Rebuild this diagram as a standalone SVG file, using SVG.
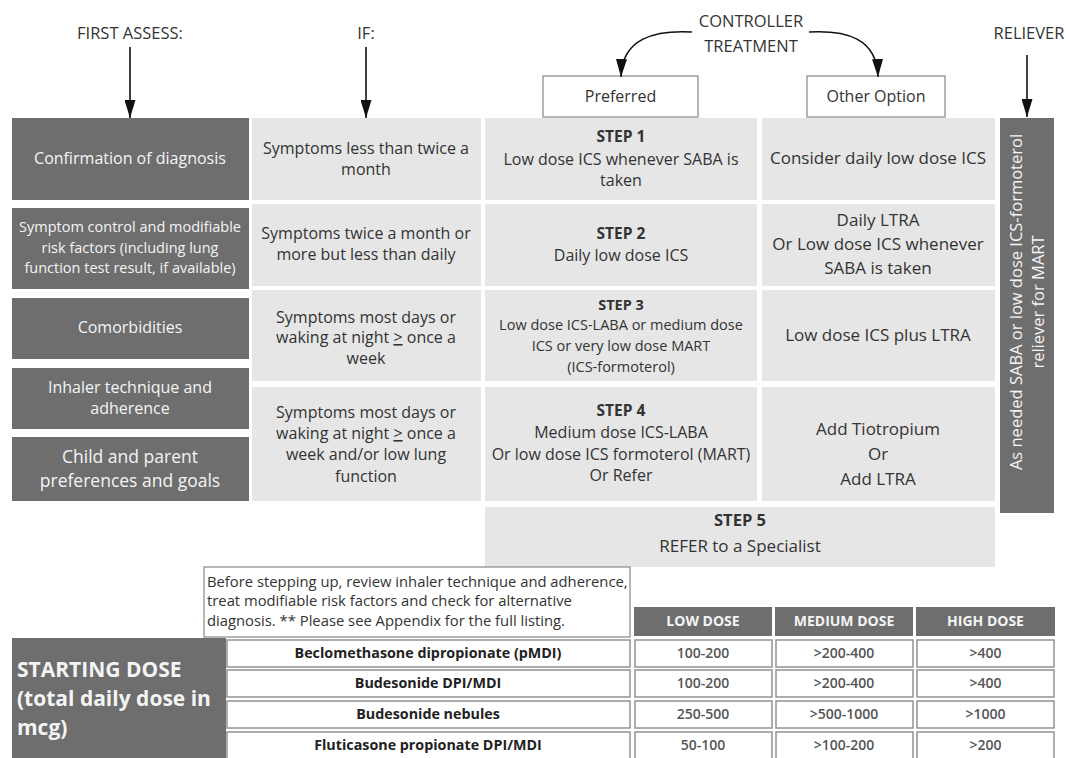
<svg xmlns="http://www.w3.org/2000/svg" width="1066" height="758" viewBox="0 0 1066 758">
  <defs>
    <marker id="head" viewBox="0 0 18 11" refX="18" refY="5.5" markerWidth="18" markerHeight="11" markerUnits="userSpaceOnUse" orient="auto">
      <path d="M0 0 L18 5.5 L0 11 Z" fill="#111"/>
    </marker>
    <style>
      text { font-family: "Open Sans", "Liberation Sans", sans-serif; }
      .hdr { font-size: 16.5px; fill: #333; text-anchor: middle; }
      .dark { fill: #6e6e6e; }
      .light { fill: #e6e6e6; }
      .dt { fill: #f4f4f4; font-size: 16px; text-anchor: middle; }
      .lt { fill: #333; font-size: 16px; text-anchor: middle; }
      .sm { font-size: 14.5px; }
      .st { font-size: 15.5px; font-weight: bold; }
      .oo { font-size: 17px; }
      .obox { fill: #fff; stroke: #888; stroke-width: 1.2; }
      .cell { fill: #fff; stroke: #999; stroke-width: 1.6; }
      .th { fill: #f4f4f4; font-size: 14px; font-weight: bold; text-anchor: middle; }
      .drug { fill: #222; font-size: 14.3px; font-weight: bold; text-anchor: middle; }
      .val { fill: #555; font-size: 14px; font-weight: 600; text-anchor: middle; }
      .note { fill: #333; font-size: 14.8px; }
      .sd { fill: #f4f4f4; font-size: 21px; font-weight: bold; }
      .arrow { fill: none; stroke: #111; stroke-width: 1.6; marker-end: url(#head); }
    </style>
  </defs>

  <rect width="1066" height="758" fill="#fff"/>

  <!-- column headings -->
  <g id="headings">
    <text class="hdr" x="130" y="39">FIRST ASSESS:</text>
    <text class="hdr" x="366" y="39">IF:</text>
    <text class="hdr" x="751" y="27">CONTROLLER</text>
    <text class="hdr" x="751" y="52">TREATMENT</text>
    <text class="hdr" x="1029" y="39">RELIEVER</text>
  </g>

  <g id="preferred">
    <rect class="obox" x="543" y="76" width="155" height="41"/>
    <text class="lt" x="620.5" y="102">Preferred</text>
  </g>
  <g id="other-option">
    <rect class="obox" x="807" y="76" width="138" height="41"/>
    <text class="lt" x="876" y="102">Other Option</text>
  </g>

  <!-- connectors -->
  <g id="connectors">
    <path class="arrow" d="M130 47 L130 118"/>
    <path class="arrow" d="M366 47 L366 118"/>
    <path class="arrow" d="M1027 55 L1027 117"/>
    <path class="arrow" d="M692 32 C655 30 622 38 621 77"/>
    <path class="arrow" d="M809 32 C846 30 877 38 878 77"/>
  </g>

  <!-- assessment column -->
  <g id="assess-diagnosis">
    <rect class="dark" x="12" y="118" width="237" height="82"/>
    <text class="dt" x="130" y="164">Confirmation of diagnosis</text>
  </g>
  <g id="assess-control">
    <rect class="dark" x="12" y="208" width="237" height="81"/>
    <text class="dt sm" x="130" y="232">Symptom control and modifiable</text>
    <text class="dt sm" x="130" y="253">risk factors (including lung</text>
    <text class="dt sm" x="130" y="273">function test result, if available)</text>
  </g>
  <g id="assess-comorbid">
    <rect class="dark" x="12" y="298" width="237" height="61"/>
    <text class="dt" x="130" y="333">Comorbidities</text>
  </g>
  <g id="assess-inhaler">
    <rect class="dark" x="12" y="368" width="237" height="61"/>
    <text class="dt" x="130" y="393">Inhaler technique and</text>
    <text class="dt" x="130" y="414">adherence</text>
  </g>
  <g id="assess-preferences">
    <rect class="dark" x="12" y="437" width="237" height="64"/>
    <text class="dt" x="130" y="463" style="font-size:17.5px">Child and parent</text>
    <text class="dt" x="130" y="487" style="font-size:17.5px">preferences and goals</text>
  </g>

  <!-- symptom column -->
  <g id="if-1">
    <rect class="light" x="252" y="118" width="229" height="82"/>
    <text class="lt" x="366" y="154">Symptoms less than twice a</text>
    <text class="lt" x="366" y="175">month</text>
  </g>
  <g id="if-2">
    <rect class="light" x="252" y="204" width="229" height="82"/>
    <text class="lt" x="366" y="239">Symptoms twice a month or</text>
    <text class="lt" x="366" y="260">more but less than daily</text>
  </g>
  <g id="if-3">
    <rect class="light" x="252" y="290" width="229" height="91"/>
    <text class="lt" x="366" y="323">Symptoms most days or</text>
    <text class="lt" x="366" y="343">waking at night <tspan text-decoration="underline">&gt;</tspan> once a</text>
    <text class="lt" x="366" y="364">week</text>
  </g>
  <g id="if-4">
    <rect class="light" x="252" y="387" width="229" height="114"/>
    <text class="lt" x="366" y="418">Symptoms most days or</text>
    <text class="lt" x="366" y="439">waking at night <tspan text-decoration="underline">&gt;</tspan> once a</text>
    <text class="lt" x="366" y="460">week and/or low lung</text>
    <text class="lt" x="366" y="482">function</text>
  </g>

  <!-- preferred controller steps -->
  <g id="step-1">
    <rect class="light" x="485" y="118" width="272" height="82"/>
    <text class="lt st" x="621" y="142">STEP 1</text>
    <text class="lt" x="621" y="165">Low dose ICS whenever SABA is</text>
    <text class="lt" x="621" y="186">taken</text>
  </g>
  <g id="step-2">
    <rect class="light" x="485" y="204" width="272" height="82"/>
    <text class="lt st" x="621" y="239">STEP 2</text>
    <text class="lt" x="621" y="261">Daily low dose ICS</text>
  </g>
  <g id="step-3">
    <rect class="light" x="485" y="290" width="272" height="91"/>
    <text class="lt st" x="621" y="310" style="font-size:14.5px">STEP 3</text>
    <text class="lt sm" x="621" y="330">Low dose ICS-LABA or medium dose</text>
    <text class="lt sm" x="621" y="351">ICS or very low dose MART</text>
    <text class="lt sm" x="621" y="372">(ICS-formoterol)</text>
  </g>
  <g id="step-4">
    <rect class="light" x="485" y="387" width="272" height="114"/>
    <text class="lt st" x="621" y="416">STEP 4</text>
    <text class="lt" x="621" y="438">Medium dose ICS-LABA</text>
    <text class="lt" x="621" y="460">Or low dose ICS formoterol (MART)</text>
    <text class="lt" x="621" y="481">Or Refer</text>
  </g>
  <g id="step-5">
    <rect class="light" x="485" y="507" width="510" height="60"/>
    <text class="lt st" x="740" y="526" style="font-size:16.5px">STEP 5</text>
    <text class="lt oo" x="740" y="552">REFER to a Specialist</text>
  </g>

  <!-- other controller options -->
  <g id="other-1">
    <rect class="light" x="762" y="118" width="233" height="82"/>
    <text class="lt oo" x="878" y="164">Consider daily low dose ICS</text>
  </g>
  <g id="other-2">
    <rect class="light" x="762" y="204" width="233" height="82"/>
    <text class="lt oo" x="878" y="226">Daily LTRA</text>
    <text class="lt oo" x="878" y="250">Or Low dose ICS whenever</text>
    <text class="lt oo" x="878" y="274">SABA is taken</text>
  </g>
  <g id="other-3">
    <rect class="light" x="762" y="290" width="233" height="91"/>
    <text class="lt oo" x="878" y="341">Low dose ICS plus LTRA</text>
  </g>
  <g id="other-4">
    <rect class="light" x="762" y="387" width="233" height="114"/>
    <text class="lt oo" x="878" y="435">Add Tiotropium</text>
    <text class="lt oo" x="878" y="460">Or</text>
    <text class="lt oo" x="878" y="485">Add LTRA</text>
  </g>

  <!-- reliever column -->
  <g id="reliever">
    <rect class="dark" x="1000" y="118" width="54" height="395"/>
    <text class="dt" transform="translate(1022 302) rotate(-90)" style="font-size:16.5px">As needed SABA or low dose ICS-formoterol</text>
    <text class="dt" transform="translate(1044 302) rotate(-90)" style="font-size:16.5px">reliever for MART</text>
  </g>

  <!-- review note -->
  <g id="note">
    <rect class="obox" x="204" y="567" width="426" height="70"/>
    <text class="note" x="207" y="587">Before stepping up, review inhaler technique and adherence,</text>
    <text class="note" x="207" y="606">treat modifiable risk factors and check for alternative</text>
    <text class="note" x="207" y="626">diagnosis. ** Please see Appendix for the full listing.</text>
  </g>

  <!-- starting dose table -->
  <g id="starting-dose">
    <rect class="dark" x="12" y="638" width="214" height="120"/>
    <text class="sd" x="17" y="677">STARTING DOSE</text>
    <text class="sd" x="17" y="706">(total daily dose in</text>
    <text class="sd" x="17" y="735">mcg)</text>
  </g>
  <g id="dose-headers">
    <rect class="dark" x="634" y="607" width="138" height="29"/>
    <text class="th" x="703" y="626">LOW DOSE</text>
    <rect class="dark" x="775" y="607" width="138" height="29"/>
    <text class="th" x="844" y="626">MEDIUM DOSE</text>
    <rect class="dark" x="916" y="607" width="139" height="29"/>
    <text class="th" x="985.5" y="626">HIGH DOSE</text>
  </g>
  <g id="row-beclomethasone">
    <rect class="cell" x="227" y="640" width="403" height="27"/>
    <text class="drug" x="428" y="658">Beclomethasone dipropionate (pMDI)</text>
    <rect class="cell" x="635" y="640" width="137" height="27"/>
    <text class="val" x="703" y="658">100-200</text>
    <rect class="cell" x="776" y="640" width="137" height="27"/>
    <text class="val" x="844" y="658">&gt;200-400</text>
    <rect class="cell" x="917" y="640" width="137" height="27"/>
    <text class="val" x="985.5" y="658">&gt;400</text>
  </g>
  <g id="row-budesonide">
    <rect class="cell" x="227" y="670" width="403" height="27"/>
    <text class="drug" x="428" y="688">Budesonide DPI/MDI</text>
    <rect class="cell" x="635" y="670" width="137" height="27"/>
    <text class="val" x="703" y="688">100-200</text>
    <rect class="cell" x="776" y="670" width="137" height="27"/>
    <text class="val" x="844" y="688">&gt;200-400</text>
    <rect class="cell" x="917" y="670" width="137" height="27"/>
    <text class="val" x="985.5" y="688">&gt;400</text>
  </g>
  <g id="row-nebules">
    <rect class="cell" x="227" y="701" width="403" height="27"/>
    <text class="drug" x="428" y="719">Budesonide nebules</text>
    <rect class="cell" x="635" y="701" width="137" height="27"/>
    <text class="val" x="703" y="719">250-500</text>
    <rect class="cell" x="776" y="701" width="137" height="27"/>
    <text class="val" x="844" y="719">&gt;500-1000</text>
    <rect class="cell" x="917" y="701" width="137" height="27"/>
    <text class="val" x="985.5" y="719">&gt;1000</text>
  </g>
  <g id="row-fluticasone">
    <rect class="cell" x="227" y="732" width="403" height="28"/>
    <text class="drug" x="428" y="750">Fluticasone propionate DPI/MDI</text>
    <rect class="cell" x="635" y="732" width="137" height="28"/>
    <text class="val" x="703" y="750">50-100</text>
    <rect class="cell" x="776" y="732" width="137" height="28"/>
    <text class="val" x="844" y="750">&gt;100-200</text>
    <rect class="cell" x="917" y="732" width="137" height="28"/>
    <text class="val" x="985.5" y="750">&gt;200</text>
  </g>
</svg>
